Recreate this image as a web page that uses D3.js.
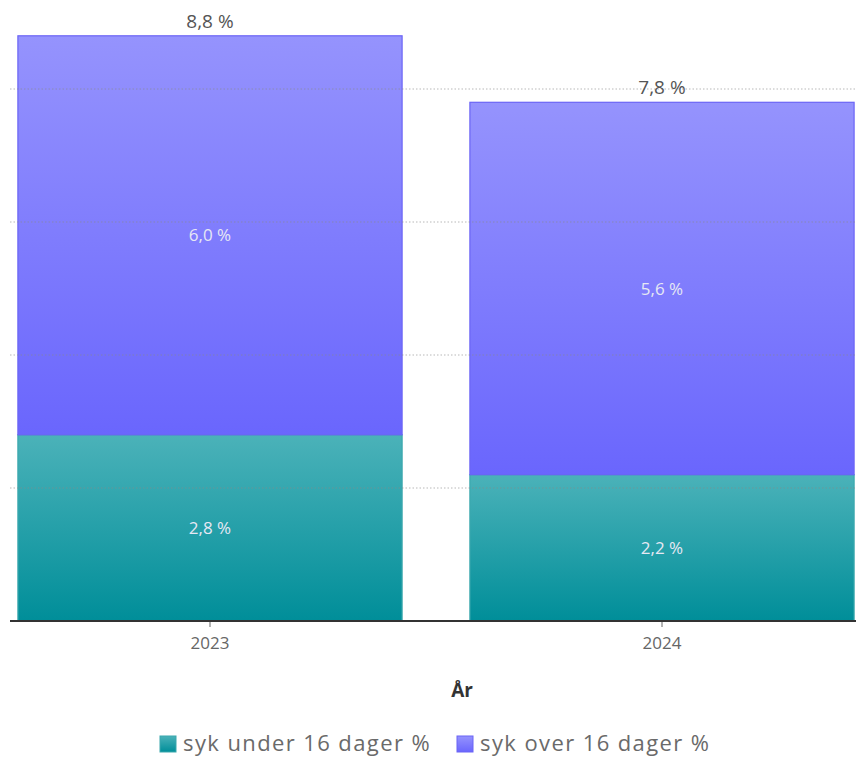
<!DOCTYPE html>
<html>
<head>
<meta charset="utf-8">
<script src="https://cdn.jsdelivr.net/npm/d3@7"></script>
<style>
  body { margin: 0; background: #fff; }
  svg { display: block; font-family: "Open Sans", "Noto Sans", sans-serif; }
</style>
</head>
<body>
<script>
'use strict';

// data
let years = ['2023', '2024'];
let seriesNames = ['syk under 16 dager %', 'syk over 16 dager %'];
let under16 = [2.8, 2.2];
let over16 = [6.0, 5.6];
let totals = [8.8, 7.8];
let gridTicks = [2, 4, 6, 8];

let width = 856, height = 758;
let baseY = 621;

let fmt = v => d3.format('.1f')(v).replace('.', ',') + ' %';

let rows = years.map((y, i) => ({ year: y, under: under16[i], over: over16[i], total: totals[i] }));
let stack = d3.stack().keys(['under', 'over'])(rows);

let x = d3.scaleBand()
  .domain(years)
  .range([-16, 888])
  .paddingInner(0.15)
  .paddingOuter(0.075);

let y = d3.scaleLinear()
  .domain([0, 8])
  .range([baseY, 89]);

let svg = d3.select('body').append('svg')
  .attr('width', width)
  .attr('height', height);

let defs = svg.append('defs');
let gradTeal = defs.append('linearGradient').attr('id', 'gTeal').attr('x1', 0).attr('x2', 0).attr('y1', 0).attr('y2', 1);
gradTeal.append('stop').attr('offset', '0%').attr('stop-color', '#4bb2b9');
gradTeal.append('stop').attr('offset', '100%').attr('stop-color', '#008e99');
let gradPurple = defs.append('linearGradient').attr('id', 'gPurple').attr('x1', 0).attr('x2', 0).attr('y1', 0).attr('y2', 1);
gradPurple.append('stop').attr('offset', '0%').attr('stop-color', '#9593fd');
gradPurple.append('stop').attr('offset', '100%').attr('stop-color', '#6a66fd');

let fills = ['url(#gTeal)', 'url(#gPurple)'];
let strokes = ['#3aa7ad', '#6b64f6'];

// bars
stack.forEach((layer, li) => {
  svg.append('g').selectAll('rect').data(layer).enter().append('rect')
    .attr('x', d => x(d.data.year))
    .attr('width', x.bandwidth())
    .attr('y', d => y(d[1]))
    .attr('height', d => y(d[0]) - y(d[1]))
    .attr('fill', fills[li])
    .attr('stroke', strokes[li])
    .attr('stroke-width', 1.2);
});

// dotted gridlines over the bars
svg.append('g').selectAll('line').data(gridTicks).enter().append('line')
  .attr('x1', 10).attr('x2', width)
  .attr('y1', d => y(d)).attr('y2', d => y(d))
  .attr('stroke', '#8a8a8a')
  .attr('stroke-opacity', 0.6)
  .attr('stroke-width', 1)
  .attr('stroke-dasharray', '1.5,2');

// x axis
let xAxis = svg.append('g')
  .attr('transform', `translate(0,${baseY})`)
  .call(d3.axisBottom(x).tickSize(6).tickPadding(10));
xAxis.select('.domain').remove();
xAxis.append('line').attr('x1', 10).attr('x2', width).attr('stroke', '#333').attr('stroke-width', 2);
xAxis.selectAll('.tick line').attr('stroke', '#666');
xAxis.selectAll('.tick text').attr('fill', '#666').attr('font-size', 17).attr('font-family', '"Open Sans", sans-serif');

svg.append('text')
  .attr('x', 462)
  .attr('y', 697)
  .attr('text-anchor', 'middle')
  .attr('font-size', 19)
  .attr('font-weight', 'bold')
  .attr('fill', '#333')
  .text('År');

// segment labels
stack.forEach(layer => {
  svg.append('g').selectAll('text').data(layer).enter().append('text')
    .attr('x', d => x(d.data.year) + x.bandwidth() / 2)
    .attr('y', d => (y(d[0]) + y(d[1])) / 2 + 6)
    .attr('text-anchor', 'middle')
    .attr('font-size', 17)
    .attr('fill', '#e6e8f4')
    .text(d => fmt(d[1] - d[0]));
});

// totals
svg.append('g').selectAll('text').data(rows).enter().append('text')
  .attr('x', d => x(d.year) + x.bandwidth() / 2)
  .attr('y', d => y(d.total) - 8)
  .attr('text-anchor', 'middle')
  .attr('font-size', 19)
  .attr('fill', '#555')
  .text(d => fmt(d.total));

// legend
let legend = svg.append('g').attr('transform', 'translate(160,751)');
let legendX = [0, 297];
seriesNames.forEach((name, i) => {
  let g = legend.append('g').attr('transform', `translate(${legendX[i]},0)`);
  g.append('rect').attr('x', 0).attr('y', -15).attr('width', 16).attr('height', 16)
    .attr('fill', fills[i]).attr('stroke', strokes[i]);
  g.append('text').attr('x', 23).attr('y', 0)
    .attr('font-size', 22).attr('letter-spacing', 1.4).attr('fill', '#6a6a6a')
    .text(name);
});
</script>
</body>
</html>
